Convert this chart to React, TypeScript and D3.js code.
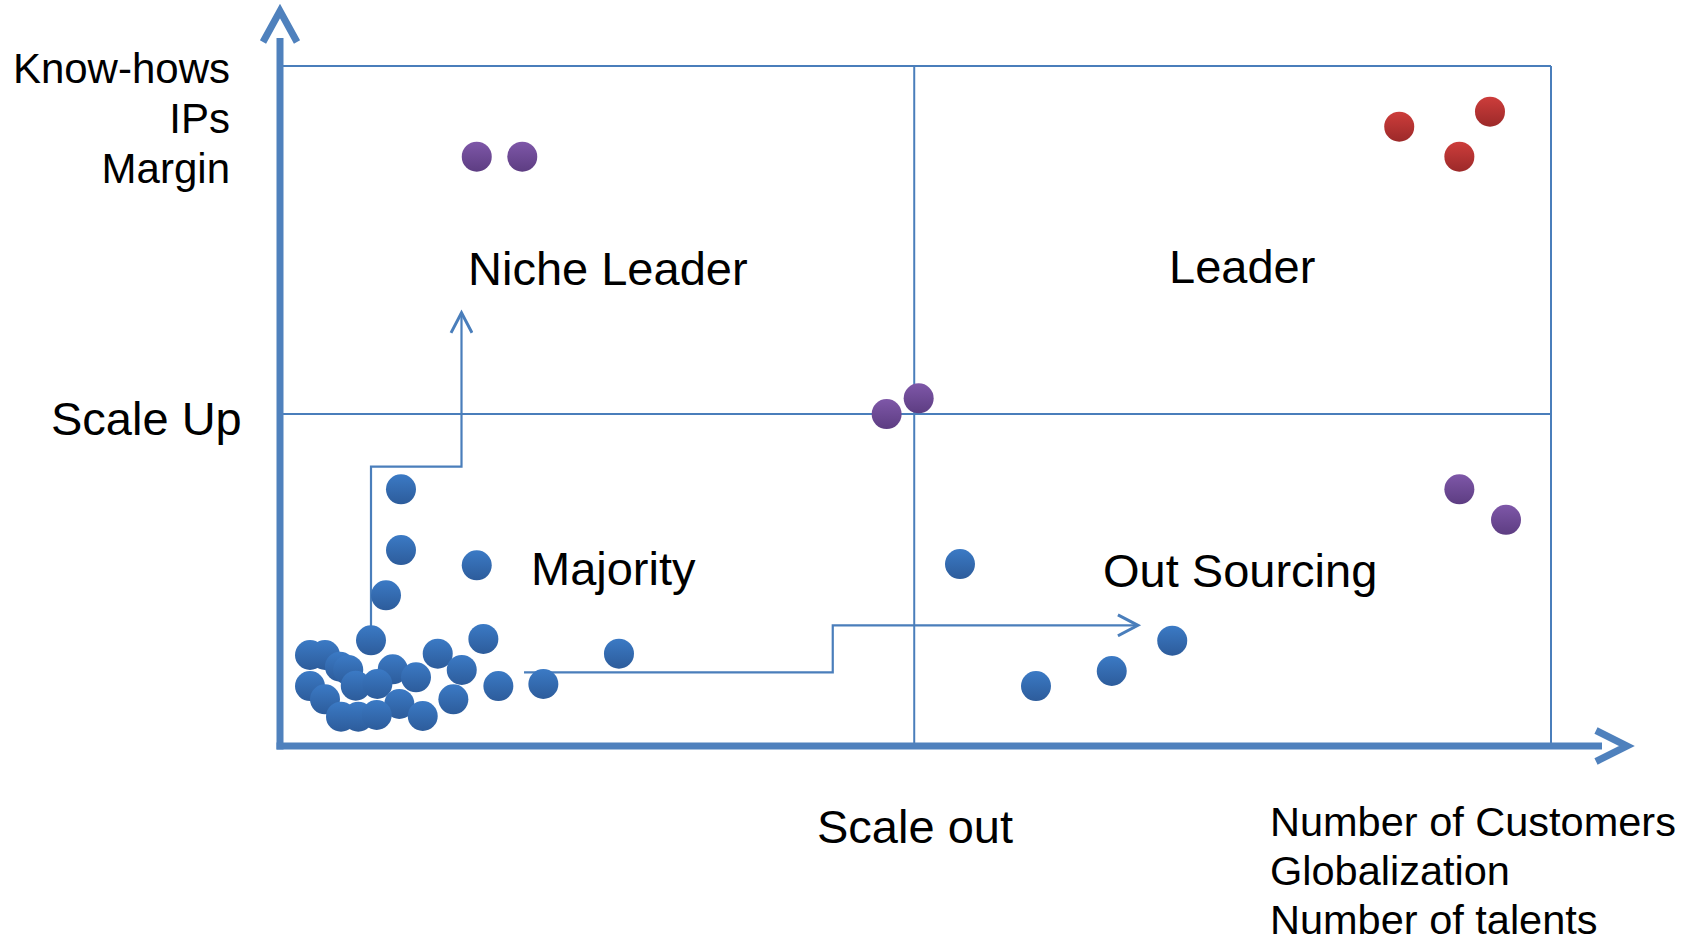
import React from 'react'
import * as d3 from 'd3'

// positions of companies on the two axes (0-100 on each axis)
const blueX = [9.52, 9.52, 15.48, 8.34, 7.16, 16.0, 12.41, 26.67, 2.36, 3.54, 4.72, 5.37, 8.87, 14.3, 10.7, 2.36, 5.96, 7.66, 17.18, 20.72, 3.54, 9.39, 13.64, 4.8, 6.16, 7.61, 11.23, 53.5, 59.48, 65.44, 70.2]
const blueY = [37.75, 28.82, 26.57, 22.16, 15.54, 15.74, 13.57, 13.57, 13.38, 13.38, 11.66, 11.18, 11.28, 11.18, 10.1, 8.82, 8.87, 9.12, 8.82, 9.12, 6.87, 6.18, 6.87, 4.31, 4.31, 4.56, 4.41, 26.76, 8.82, 11.03, 15.49]
const purpleX = [15.48, 19.06, 47.73, 50.25, 92.79, 96.46]
const purpleY = [86.66, 86.66, 48.82, 51.13, 37.75, 33.26]
const redX = [88.06, 95.2, 92.79]
const redY = [91.07, 93.28, 86.66]

// quadrant dividers
const dividerX = 49.9
const dividerY = 48.82

// growth paths (step arrows)
const scaleUpPath = [[7.16, 15.5], [7.16, 41.07], [14.28, 41.07], [14.28, 63.7]]
const scaleOutPath = [[19.2, 10.84], [43.49, 10.84], [43.49, 17.75], [67.5, 17.75]]

const yLabels = ['Know-hows', 'IPs', 'Margin']
const xLabels = ['Number of Customers', 'Globalization', 'Number of talents']

const W = 1705
const H = 945
const axisColor = '#4f81bd'
const gridColor = '#4a7ebb'
const font = 'Liberation Sans, Arial, sans-serif'

const x = d3.scaleLinear().domain([0, 100]).range([280, 1551])
const y = d3.scaleLinear().domain([0, 100]).range([746, 66])

const groups = [
  { id: 'blue', xs: blueX, ys: blueY, top: '#3b7ac5', bottom: '#2d5c9b' },
  { id: 'purple', xs: purpleX, ys: purpleY, top: '#7e57a8', bottom: '#5d3d82' },
  { id: 'red', xs: redX, ys: redY, top: '#cd3d3b', bottom: '#9c2929' },
]

const line = d3
  .line<number[]>()
  .x((d) => x(d[0]))
  .y((d) => y(d[1]))

export default function App() {
  return (
    <svg
      width={W}
      height={H}
      style={{ position: 'absolute', left: 0, top: 0, background: '#fff', fontFamily: font }}
    >
      <defs>
        {groups.map((g) => (
          <linearGradient key={g.id} id={`grad-${g.id}`} x1='0' y1='0' x2='0' y2='1'>
            <stop offset='0' stopColor={g.top} />
            <stop offset='1' stopColor={g.bottom} />
          </linearGradient>
        ))}
        <marker
          id='thinHead'
          viewBox='-22 -12 26 24'
          markerUnits='userSpaceOnUse'
          markerWidth={26}
          markerHeight={24}
          refX={0}
          refY={0}
          orient='auto'
        >
          <path d='M-20,-10.5L0,0L-20,10.5' fill='none' stroke={gridColor} strokeWidth={3} />
        </marker>
      </defs>

      {/* frame and quadrant lines */}
      <g stroke={gridColor} strokeWidth={2} fill='none'>
        <line x1={x(0)} x2={x(100)} y1={y(100)} y2={y(100)} />
        <line x1={x(100)} x2={x(100)} y1={y(100)} y2={y(0)} />
        <line x1={x(0)} x2={x(100)} y1={y(dividerY)} y2={y(dividerY)} />
        <line x1={x(dividerX)} x2={x(dividerX)} y1={y(100)} y2={y(0)} />
      </g>

      {/* step arrows */}
      <g fill='none' stroke={gridColor} strokeWidth={2.2}>
        <path d={line(scaleUpPath) || ''} markerEnd='url(#thinHead)' />
        <path d={line(scaleOutPath) || ''} markerEnd='url(#thinHead)' />
      </g>

      {/* axes */}
      <g stroke={axisColor} strokeWidth={7} fill='none'>
        <line x1={x(0)} x2={x(0)} y1={38} y2={y(0) + 3.5} />
        <line x1={x(0) - 3.5} x2={1602} y1={y(0)} y2={y(0)} />
        <path d={`M${x(0) - 17},42L${x(0)},11L${x(0) + 17},42`} />
        <path d={`M1596,${y(0) - 15.5}L1627,${y(0)}L1596,${y(0) + 15.5}`} />
      </g>

      {/* dots */}
      {groups.map((g) => (
        <g key={g.id} fill={`url(#grad-${g.id})`}>
          {g.xs.map((v, i) => (
            <circle key={i} cx={x(v)} cy={y(g.ys[i])} r={15} />
          ))}
        </g>
      ))}

      {/* texts */}
      <g fill='#000'>
        {yLabels.map((t, i) => (
          <text key={t} x={230} y={83 + i * 50} fontSize={42} textAnchor='end'>
            {t}
          </text>
        ))}
        <text x={51} y={435} fontSize={47}>Scale Up</text>
        <text x={468} y={285} fontSize={47}>Niche Leader</text>
        <text x={1169} y={283} fontSize={47}>Leader</text>
        <text x={531} y={585} fontSize={47}>Majority</text>
        <text x={1103} y={587} fontSize={47}>Out Sourcing</text>
        <text x={817} y={843} fontSize={47}>Scale out</text>
        {xLabels.map((t, i) => (
          <text key={t} x={1270} y={836 + i * 49} fontSize={41.5}>
            {t}
          </text>
        ))}
      </g>
    </svg>
  )
}
